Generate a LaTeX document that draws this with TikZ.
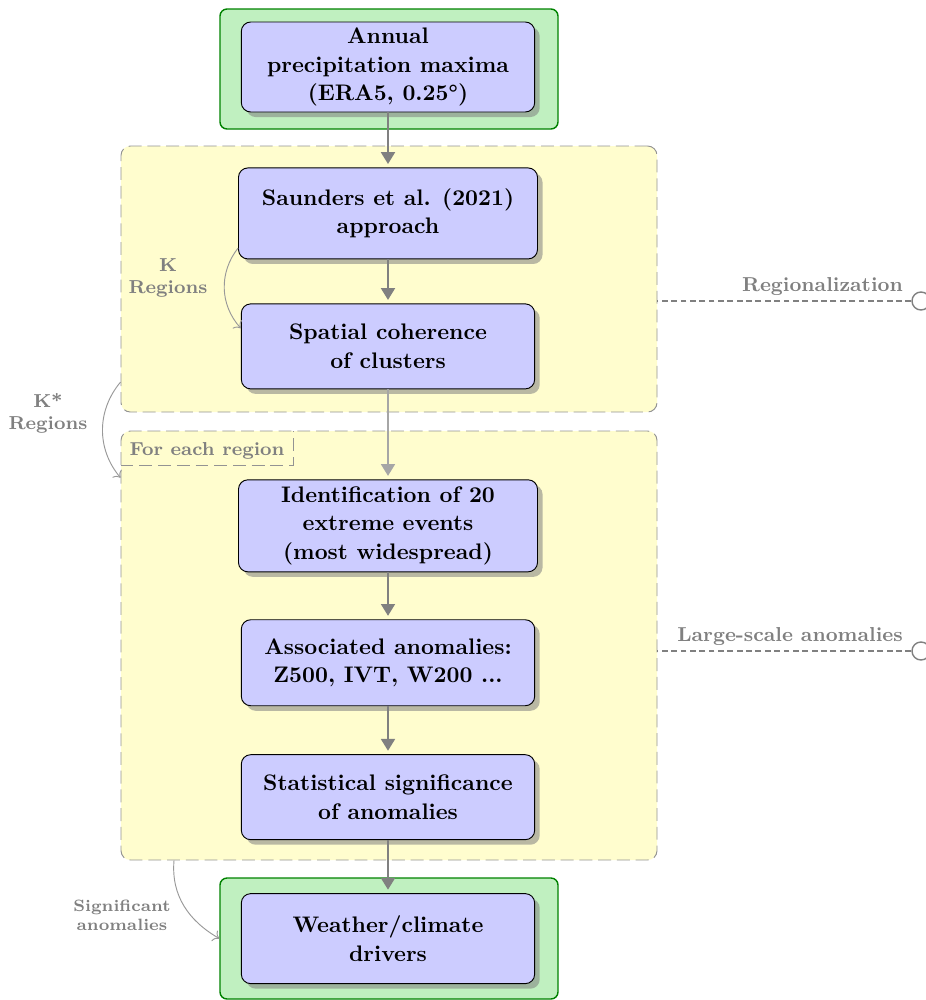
\documentclass[tikz,border=0pt]{standalone}
\usepackage{amsmath}
\usetikzlibrary{positioning,shadows,arrows.meta}
\usepackage{color}

\definecolor{boxblue}{RGB}{204,204,255}
\definecolor{boxgreen}{RGB}{192,240,192}
\definecolor{edgegreen}{RGB}{0,130,0}
\definecolor{regyellow}{RGB}{255,253,206}

\tikzset{
    stepbox/.style={rectangle, rounded corners=4pt, draw=black, fill=boxblue, align=center,
        font=\fontsize{9.6}{12.2}\selectfont\bfseries, inner sep=2pt, minimum width=4.4cm,
        drop shadow={opacity=0.55}},
    iobox/.style={rectangle, rounded corners=3pt, draw=edgegreen, fill=boxgreen, semithick,
        minimum width=5.07cm},
    regbox/.style={rectangle, rounded corners=4pt, draw=gray!85, fill=regyellow,
        dash pattern=on 5.5pt off 2.5pt, minimum width=8.04cm},
    flow/.style={draw=gray, line width=0.6pt, -{Triangle[length=5pt,width=6pt]}, shorten >=1.5pt},
    sideflow/.style={draw=gray!80, ->, thin},
    sidelabel/.style={text=gray, font=\footnotesize\bfseries, align=center},
    pinlabel/.style={text=gray, font=\fontsize{8.6}{10}\selectfont\bfseries, inner sep=2pt},
    pinend/.style={circle, draw=gray, semithick, minimum size=0.27cm, inner sep=0pt},
    pinline/.style={draw=gray, semithick, dash pattern=on 2.5pt off 1.5pt}
}

\begin{document}
\begin{tikzpicture}
        \useasboundingbox (0,0) rectangle (13.89,-15);

        % containers
        \node[iobox, minimum height=1.8cm] (inbox) at (5.835,-1.035) {};
        \node[regbox, minimum height=3.99cm] (regbox) at (5.835,-4.185) {};
        \node[regbox, minimum height=6.435cm] (eventbox) at (5.835,-9.6825) {};
        \node[iobox, minimum height=1.815cm] (outbox) at (5.835,-14.0775) {};

        \node[anchor=north west, minimum width=2.58cm, minimum height=0.51cm, text=gray,
            font=\footnotesize\bfseries] (tag) at ([yshift=-0.04cm]eventbox.north west) {For each region};
        \draw[gray!85, dash pattern=on 5.5pt off 2.5pt] ([yshift=0.04cm]tag.south west) -- ([yshift=0.04cm]tag.south east) -- ([yshift=0.04cm]tag.north east);

        % steps
        \node[stepbox, minimum height=1.35cm] (annual) at (5.82,-1.005) {Annual\\precipitation maxima\\(ERA5, 0.25\textdegree)};
        \node[stepbox, minimum width=4.485cm, minimum height=1.365cm] (saunders) [below=0.825cm of annual] {Saunders et al. (2021)\\approach};
        \node[stepbox, minimum height=1.275cm] (spatial) [below=0.66cm of saunders] {Spatial coherence\\of clusters};
        \node[stepbox, minimum width=4.485cm, minimum height=1.38cm] (ident) [below=1.35cm of spatial] {Identification of 20\\extreme events\\(most widespread)};
        \node[stepbox, minimum height=1.29cm] (assoc) [below=0.705cm of ident] {Associated anomalies:\\Z500, IVT, W200 ...};
        \node[stepbox, minimum height=1.275cm] (stat) [below=0.72cm of assoc] {Statistical significance\\of anomalies};
        \node[stepbox, minimum height=1.35cm] (drivers) [below=0.795cm of stat] {Weather/climate\\drivers};

        \draw[flow] (annual.south) -- (saunders.north);
        \draw[flow] (saunders.south) -- (spatial.north);
        \draw[flow, draw=gray!70] (spatial.south) -- (ident.north);
        \draw[flow] (ident.south) -- (assoc.north);
        \draw[flow] (assoc.south) -- (stat.north);
        \draw[flow] (stat.south) -- (drivers.north);

        % side arrows
        \node[sidelabel] (klabel) at (2.52,-4.17) {K\\Regions};
        \draw[sideflow] (saunders.193) to[bend right=40] (spatial.173);
        \node[sidelabel] (kstarlabel) at (0.72,-6.195) {K*\\Regions};
        \draw[sideflow] (regbox.201) to[bend right=40] (eventbox.148);
        \node[sidelabel, font=\scriptsize\bfseries] (siglabel) at (1.83,-13.725) {Significant\\anomalies};
        \draw[sideflow] (eventbox.225) to[out=265, in=150] (outbox.west);

        % pins
        \node[pinend] (regpin) at (13.815,-4.515) {};
        \node[pinlabel, anchor=south east] (reglabel) at ([xshift=-0.05cm]regpin.west) {Regionalization};
        \draw[pinline] (regpin.west) -- (regpin.west -| regbox.east);
        \node[pinend] (anompin) at (13.815,-9.765) {};
        \node[pinlabel, anchor=south east] (anomlabel) at ([xshift=-0.05cm]anompin.west) {Large-scale anomalies};
        \draw[pinline] (anompin.west) -- (anompin.west -| eventbox.east);
    \end{tikzpicture}
\end{document}
